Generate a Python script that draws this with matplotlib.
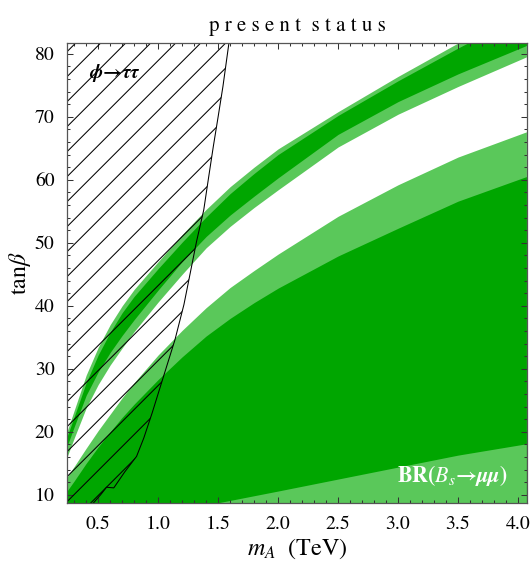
import numpy as np
import matplotlib
matplotlib.use("Agg")
import matplotlib.pyplot as plt
from matplotlib.ticker import MultipleLocator

plt.rcParams['font.family'] = 'STIXGeneral'
plt.rcParams['mathtext.fontset'] = 'stix'

# m_A grid (TeV) for the Bs->mumu bands
m_a = [0.24, 0.3, 0.4, 0.5, 0.6, 0.7, 0.8, 1.0, 1.2, 1.4, 1.6, 1.8, 2.0, 2.5, 3.0, 3.5, 4.07]

# upper (sign-flipped) band
band_light_top = [20.0, 23.4, 29.0, 33.4, 37.0, 40.0, 42.6, 47.0, 51.3, 55.3, 58.9, 62.0, 64.9, 70.8, 76.4, 81.7, 87.5]
band_dark_top = [19.2, 22.4, 27.8, 32.2, 35.8, 38.9, 41.5, 45.9, 50.1, 54.1, 57.8, 61.0, 64.0, 70.2, 75.7, 80.9, 86.5]
band_dark_bot = [17.7, 20.8, 25.8, 29.5, 32.6, 35.3, 37.8, 42.5, 47.0, 51.0, 54.4, 57.4, 60.3, 67.2, 72.4, 76.8, 81.3]
band_light_bot = [16.0, 19.0, 23.8, 27.5, 30.6, 33.3, 35.9, 40.6, 45.0, 49.2, 52.6, 55.6, 58.4, 65.2, 70.4, 74.8, 79.5]

# lower (SM-like) region
low_light_top = [12.8, 14.5, 17.4, 20.2, 22.8, 25.4, 27.8, 32.2, 36.1, 39.7, 42.9, 45.6, 48.2, 54.2, 59.2, 63.6, 67.6]
low_dark_top = [10.6, 12.2, 15.0, 17.6, 20.0, 22.3, 24.4, 28.3, 31.9, 35.2, 38.0, 40.5, 42.8, 47.9, 52.3, 56.6, 60.5]

# lower edge of the dark region at large m_A
br_low_x = [0.24, 1.49, 2.0, 2.5, 3.0, 3.5, 4.07]
br_low_y = [8.7, 8.7, 10.6, 12.5, 14.4, 16.3, 18.1]

# phi -> tau tau exclusion boundary
tt_x = [0.46, 0.52, 0.57, 0.63, 0.72, 0.82, 0.88, 0.95, 1.04, 1.14, 1.215, 1.32, 1.38, 1.42, 1.46, 1.50, 1.54, 1.59]
tt_y = [8.7, 10.0, 11.2, 11.1, 13.6, 16.1, 19.0, 23.0, 28.5, 34.6, 40.2, 50.2, 55.2, 60.3, 65.3, 70.0, 74.8, 81.7]

xmin, xmax = 0.24, 4.075
ymin, ymax = 8.7, 81.7
dark = '#00a600'
light = '#5ac85a'

fig = plt.figure(figsize=(531/150, 563/150), dpi=150)
ax = fig.add_axes([67/531, 1-503/563, 460/531, 460/563])

ax.fill_between(m_a, ymin, low_light_top, color=light, lw=0)
ax.fill_between(m_a, ymin, low_dark_top, color=dark, lw=0)
ax.fill_between(br_low_x, ymin, br_low_y, color=light, lw=0)

ax.fill_between(m_a, band_light_bot, band_light_top, color=light, lw=0)
ax.fill_between(m_a, band_dark_bot, band_dark_top, color=dark, lw=0)

# hatched exclusion: 45 deg lines clipped to the region
px = [xmin] + tt_x + [xmin]
py = [ymin] + tt_y + [ymax]
region = ax.fill(px, py, facecolor='none', lw=0)[0]
step = 25 / 460
for c in np.arange(0.9267 - 40 * step, 1.0, step):
    ln, = ax.plot([0, 1], [c, c + 1], transform=ax.transAxes, color='black', lw=0.5)
    ln.set_clip_path(region)
ax.plot(tt_x, tt_y, color='black', lw=0.5)

ax.text(0.42, 77, r'$\boldsymbol{\phi\!\rightarrow\!\tau\tau}$', fontsize=9.5, ha='left', va='center')
ax.text(3.45, 13.0, r'$\mathbf{BR(}\boldsymbol{B_s\!\rightarrow\!\mu\mu}\mathbf{)}$',
        fontsize=10.5, color='white', ha='center', va='center')

ax.set_xlim(xmin, xmax)
ax.set_ylim(ymin, ymax)
ax.xaxis.set_major_locator(MultipleLocator(0.5))
ax.xaxis.set_minor_locator(MultipleLocator(0.1))
ax.yaxis.set_major_locator(MultipleLocator(10))
ax.yaxis.set_minor_locator(MultipleLocator(2))
ax.set_xticks([0.5, 1.0, 1.5, 2.0, 2.5, 3.0, 3.5, 4.0])
ax.set_xticklabels(['0.5', '1.0', '1.5', '2.0', '2.5', '3.0', '3.5', '4.0'])
ax.tick_params(which='both', direction='in', top=True, right=True, labelsize=9.5,
               color='#333333', width=0.5)
ax.tick_params(which='major', length=3.0, pad=6)
ax.tick_params(which='minor', length=1.5)
for s in ax.spines.values():
    s.set_color('#555555')
    s.set_linewidth(0.6)
    s.set_zorder(5)

ax.set_title('p r e s e n t  s t a t u s', fontsize=10, pad=6)
ax.set_xlabel(r'$m_A$  (TeV)', fontsize=11.5, labelpad=2)
ax.set_ylabel(r'tan$\beta$', fontsize=11.5, labelpad=1)

fig.savefig('out.png', dpi=150)
